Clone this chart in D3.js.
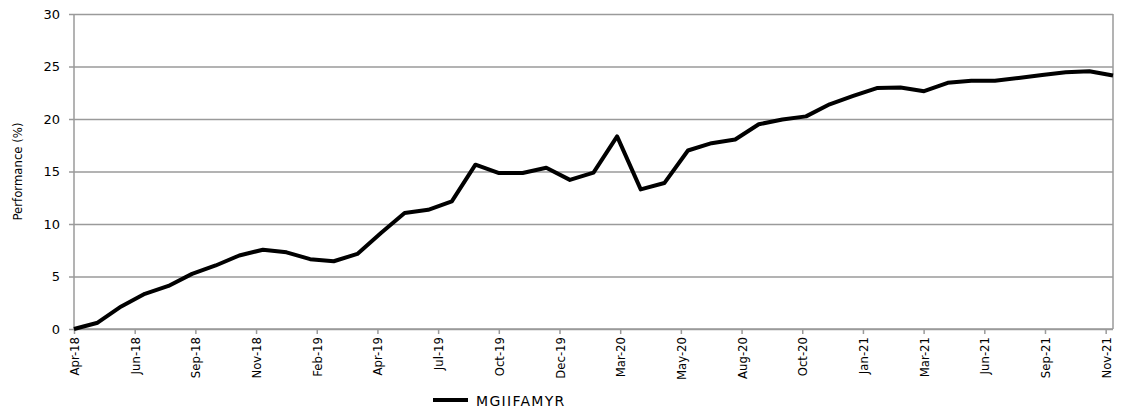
<!DOCTYPE html>
<html>
<meta charset="UTF-8">
<head>
    <title>MGIIFAMYR Performance</title>
    <script src="https://d3js.org/d3.v7.min.js"></script>
    <style>
        body {
            margin: 0;
            background: #fff;
            font-family: "DejaVu Sans", sans-serif;
        }
        .gridLines line { stroke: #9a9a9a; stroke-width: 1.5; }
        .gridLines .domain { stroke: none; }
        .axis .domain { stroke: #9a9a9a; stroke-width: 1.5; }
        .axis line { stroke: #9a9a9a; stroke-width: 1.5; }
        .y.axis text { font-family: "DejaVu Sans", sans-serif; font-size: 13px; fill: #000; }
        .x.axis text { font-family: "DejaVu Sans Condensed", "Liberation Sans Narrow", sans-serif; font-size: 13px; fill: #000; }
    </style>
</head>
<body>
    <svg id="graph" height="409" width="1122"></svg>
</body>
<script>
    // data: one value a month, Apr-18 .. Dec-21
    const performance = [
        0, 0.6, 2.15, 3.35, 4.1, 5.25, 6.05, 7.0, 7.55,
        7.3, 6.65, 6.45, 7.15, 9.15, 11.05, 11.35, 12.15, 15.65, 14.85, 14.85, 15.35,
        14.2, 14.9, 18.35, 13.3, 13.9, 17.0, 17.7, 18.05, 19.5, 19.95, 20.25, 21.4,
        22.2, 22.95, 23.0, 22.65, 23.45, 23.65, 23.65, 23.9, 24.2, 24.45, 24.55, 24.15
    ];
    const tickLabels = ["Apr-18", "Jun-18", "Sep-18", "Nov-18", "Feb-19", "Apr-19", "Jul-19", "Oct-19",
        "Dec-19", "Mar-20", "May-20", "Aug-20", "Oct-20", "Jan-21", "Mar-21", "Jun-21", "Sep-21", "Nov-21"];
    const yTicks = [0, 5, 10, 15, 20, 25, 30];
    const seriesName = "MGIIFAMYR";
    const yTitle = "Performance (%)";

    const g = d3.select("svg#graph");
    const margin = {top: 14, right: 9, bottom: 80, left: 74};
    const width = +g.attr("width");
    const height = +g.attr("height");
    const chartWidth = width - margin.left - margin.right;
    const chartHeight = height - margin.top - margin.bottom;

    const data = performance.map((v, i) => ({month: i, value: v}));

    // x in months since Apr-18, y in %
    const xScale = d3.scaleLinear().domain([0, performance.length - 1]).range([0, chartWidth]);
    const yScale = d3.scaleLinear().domain([0, 30]).range([chartHeight, 0]);

    // the date axis puts its labels every ~2.57 months
    const tickStep = 2.57;
    const xTicks = tickLabels.map((d, i) => i * tickStep);

    let annotations = g.append("g").attr("id", "annotations")
        .attr("transform", `translate(${margin.left},${margin.top})`);
    let chartArea = g.append("g").attr("id", "line")
        .attr("transform", `translate(${margin.left},${margin.top})`);

    // horizontal grid
    annotations.append("g")
        .attr("class", "gridLines")
        .call(d3.axisLeft(yScale).tickValues(yTicks).tickSize(-chartWidth).tickFormat(""));

    // right border
    annotations.append("line")
        .attr("x1", chartWidth).attr("x2", chartWidth)
        .attr("y1", 0).attr("y2", chartHeight)
        .attr("stroke", "#9a9a9a").attr("stroke-width", 1.5);

    // y axis
    let leftAxis = d3.axisLeft(yScale).tickValues(yTicks).tickSize(5).tickPadding(9);
    annotations.append("g")
        .attr("class", "y axis")
        .call(leftAxis)
        .call(a => a.select(".domain").attr("d", `M0,0V${chartHeight}`));

    // x axis
    let bottomAxis = d3.axisBottom(xScale)
        .tickValues(xTicks)
        .tickSize(5)
        .tickFormat((d, i) => tickLabels[i]);
    annotations.append("g")
        .attr("class", "x axis")
        .attr("transform", `translate(0,${chartHeight})`)
        .call(bottomAxis)
        .call(a => a.select(".domain").attr("d", `M0,0H${chartWidth}`))
        .selectAll("text")
        .attr("transform", "rotate(-90)")
        .attr("text-anchor", "end")
        .attr("dy", "0.35em")
        .attr("x", -8)
        .attr("y", 0);

    // y title
    g.append("text")
        .attr("transform", `translate(22,${margin.top + chartHeight / 2}) rotate(-90)`)
        .attr("text-anchor", "middle")
        .style("font-family", "'DejaVu Sans Condensed', 'Liberation Sans Narrow', sans-serif")
        .style("font-size", "13px")
        .text(yTitle);

    // the series
    const line = d3.line()
        .x(d => xScale(d.month))
        .y(d => yScale(d.value));
    chartArea.append("path")
        .datum(data)
        .attr("d", line)
        .attr("fill", "none")
        .attr("stroke", "#000")
        .attr("stroke-width", 4)
        .attr("stroke-linejoin", "round");

    // legend
    const legend = g.append("g").attr("transform", "translate(433,400)");
    legend.append("line")
        .attr("x1", 0).attr("x2", 35)
        .attr("stroke", "#000").attr("stroke-width", 4);
    legend.append("text")
        .attr("x", 43).attr("y", 6)
        .style("font-family", "'DejaVu Sans', sans-serif")
        .style("font-size", "14px")
        .style("letter-spacing", "1.3px")
        .text(seriesName);
</script>
</html>
